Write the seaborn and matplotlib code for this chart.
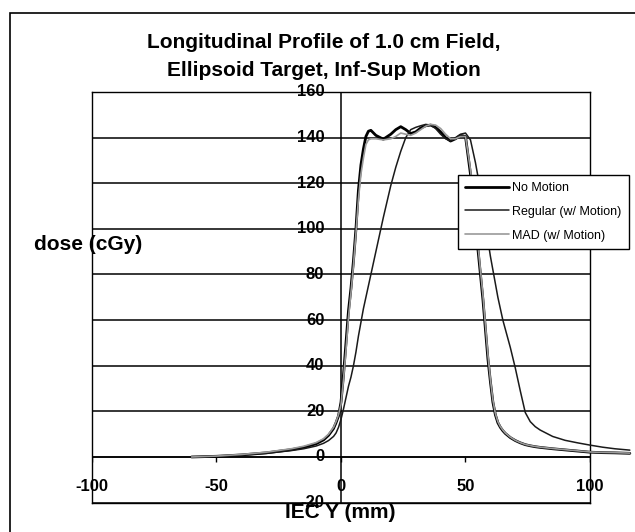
"""Longitudinal dose profile of a 1.0 cm field, ellipsoid target, inf-sup motion."""

import matplotlib

matplotlib.use("Agg")
import matplotlib.pyplot as plt
import numpy as np
import pandas as pd
import seaborn as sns
from matplotlib.patches import Rectangle

# position along IEC Y (mm)
x_mm = [
    -60, -50, -40, -30, -20, -15, -10, -7, -5, -3, -2, -1, 0, 1, 2, 3, 4, 5, 6, 7, 8, 9,
    10, 11, 12, 14, 17, 20, 22, 24, 26, 28, 30, 32, 34, 36, 38, 40, 42, 44, 46, 48, 50,
    52, 53, 54, 55, 56, 57, 58, 59, 60, 61, 62, 63, 64, 65, 66, 68, 70, 72, 74, 76, 78,
    80, 85, 90, 95, 100, 105, 110, 116,
]

dose_no_motion = [
    0.0, 0.3, 0.9, 1.8, 3.2, 4.2, 5.8, 7.5, 9.5, 12.5, 15, 18, 24, 36, 50, 64, 74, 86,
    100, 117, 128, 135, 140.5, 142.8, 143.2, 141, 139.3, 141.5, 143.5, 144.8, 143.5,
    141.8, 142.5, 144.2, 145.2, 145.5, 144.5, 142.5, 140, 138.5, 139.5, 141, 140.5,
    124, 113, 102, 91, 80, 69, 56, 43, 33, 24, 18.5, 15, 13, 11.5, 10.3, 8.5, 7.2, 6.2,
    5.4, 4.9, 4.5, 4.2, 3.6, 3.1, 2.6, 2.1, 1.9, 1.8, 1.6,
]

dose_regular = [
    0.0, 0.3, 0.8, 1.6, 2.8, 3.6, 4.8, 6.0, 7.2, 9.0, 10.5, 13, 16.5, 21, 26, 31, 35,
    40, 46, 53, 59, 65, 70, 75, 80, 90, 105, 119, 127, 134, 140, 143.5, 144.5, 145.2,
    145.8, 145.5, 144, 141.5, 139.5, 138.5, 140, 141.5, 142,
    139, 134, 129, 123, 116, 109, 102, 95, 88, 82, 76, 70, 65, 60, 56, 48, 39, 29,
    19.5, 15.5, 13.3, 11.8, 9.0, 7.3, 6.2, 5.2, 4.3, 3.6, 3.0,
]

dose_mad = [
    0.0, 0.4, 1.1, 2.1, 3.6, 4.7, 6.3, 8.0, 10.0, 13, 15.5, 18.5, 23, 34, 47, 61, 72,
    84, 98, 113, 124, 131, 137, 139, 139.5, 139.5, 139, 139.5, 140.5, 142, 141.5,
    141, 142, 143.5, 145, 145.8, 145.5, 144, 141.5, 139.5, 139.5, 140.5, 140.5,
    126, 115, 104, 93, 82, 71, 58, 45, 34, 25, 19, 15.5, 13.3, 11.8, 10.5, 8.7, 7.3,
    6.3, 5.5, 5.0, 4.6, 4.3, 3.7, 3.2, 2.7, 2.2, 2.0, 1.9, 1.7,
]

series_names = ["No Motion", "Regular (w/ Motion)", "MAD (w/ Motion)"]
x_ticks = [-100, -50, 0, 50, 100]
y_ticks = list(range(-20, 161, 20))

W, H = 635, 532


def main() -> None:
    sns.set_style("white")
    plt.rcParams["font.family"] = ["Liberation Sans", "DejaVu Sans"]
    plt.rcParams["text.color"] = "black"
    plt.rcParams["axes.labelcolor"] = "black"

    fig = plt.figure(figsize=(W / 100, H / 100), dpi=100)
    fig.add_artist(
        Rectangle((10 / W, -0.05), 1.0, 1.05 - 13 / H, transform=fig.transFigure,
                  fill=False, edgecolor="black", linewidth=1.2)
    )
    ax = fig.add_axes([92 / W, 1 - 502.6 / H, 498 / W, 410.6 / H])

    data = pd.DataFrame(
        {
            "x": x_mm * 3,
            "dose": dose_no_motion + dose_regular + dose_mad,
            "series": np.repeat(series_names, len(x_mm)),
        }
    )
    styles = {
        "No Motion": ("black", 2.0),
        "Regular (w/ Motion)": ("#1a1a1a", 1.1),
        "MAD (w/ Motion)": ("#9a9a9a", 1.2),
    }
    for name in series_names:
        color, lw = styles[name]
        part = data[data["series"] == name]
        sns.lineplot(data=part, x="x", y="dose", ax=ax, color=color, linewidth=lw,
                     label=name, sort=False, estimator=None, zorder=3)
    for line in ax.get_lines():
        line.set_clip_on(False)

    ax.set_xlim(-100, 100)
    ax.set_ylim(-20, 160)
    ax.set_xticks([])
    ax.set_yticks(y_ticks)
    ax.tick_params(axis="y", length=0, labelleft=False)
    ax.grid(axis="y", color="black", linewidth=1.1)
    ax.set_axisbelow(True)
    ax.axvline(0, color="black", linewidth=1.1, zorder=2)
    ax.axhline(0, color="black", linewidth=1.1, zorder=2)
    ax.vlines(x_ticks, -2.2, 0, color="black", linewidth=1.0, zorder=2)
    for spine in ax.spines.values():
        spine.set_color("black")
        spine.set_linewidth(1.0)
    ax.set_xlabel("")
    ax.set_ylabel("")

    # Excel-style tick labels hugging the axes that cross at the origin
    for t in y_ticks:
        ax.annotate(str(t), (0, t), xytext=(-12, 0), textcoords="offset points",
                    ha="right", va="center", fontsize=12, fontweight="bold",
                    color="black", annotation_clip=False)
    for t in x_ticks:
        ax.annotate(str(t), (t, 0), xytext=(0, -21.5), textcoords="offset points",
                    ha="center", va="center", fontsize=12, fontweight="bold",
                    color="black", annotation_clip=False)

    fig.text(324 / W, 1 - 42 / H, "Longitudinal Profile of 1.0 cm Field,",
             ha="center", va="center", fontsize=15, fontweight="bold")
    fig.text(324 / W, 1 - 70 / H, "Ellipsoid Target, Inf-Sup Motion",
             ha="center", va="center", fontsize=15, fontweight="bold")
    fig.text(88 / W, 1 - 245 / H, "dose (cGy)", ha="center", va="center",
             fontsize=15, fontweight="bold")
    fig.text(340 / W, 1 - 513 / H, "IEC Y (mm)", ha="center", va="center",
             fontsize=15, fontweight="bold")

    leg = ax.legend(loc="upper left", bbox_to_anchor=(458 / W, 1 - 175 / H),
                    bbox_transform=fig.transFigure, fontsize=9, frameon=True,
                    fancybox=False, handlelength=3.5, handletextpad=0.3,
                    labelspacing=0.95, borderpad=0.55, borderaxespad=0)
    leg.get_frame().set_edgecolor("black")
    leg.get_frame().set_linewidth(1.0)
    leg.get_frame().set_alpha(1.0)
    for text in leg.get_texts():
        text.set_color("black")
    leg.set_zorder(5)

    fig.savefig("out.png", dpi=100)
    plt.close(fig)


if __name__ == "__main__":
    main()
